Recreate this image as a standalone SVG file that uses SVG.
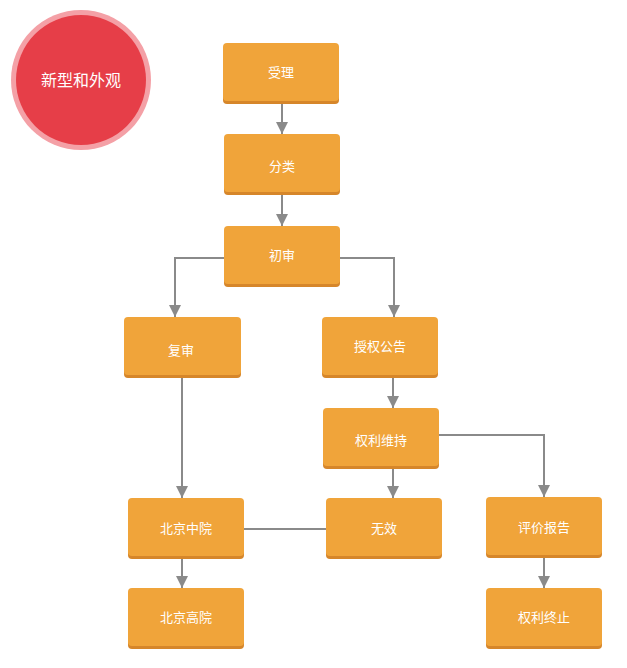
<svg xmlns="http://www.w3.org/2000/svg" width="627" height="668" viewBox="0 0 627 668">
<style>
.box{fill:#f0a43a;}
.sh{fill:#d6862a;}
.t{fill:#ffffff;font-family:"Noto Sans CJK SC","Noto Sans",sans-serif;font-size:13px;text-anchor:middle;dominant-baseline:central;}
.ln{fill:none;stroke:#8a8a8a;stroke-width:2;}
</style>
<defs>
<marker id="ar" viewBox="0 0 10 10" refX="10" refY="5" markerWidth="6" markerHeight="6" markerUnits="strokeWidth" orient="auto">
<path d="M0,0 L10,5 L0,10 Z" fill="#8a8a8a"/>
</marker>
</defs>
<rect width="627" height="668" fill="#ffffff"/>
<g id="title">
<circle cx="81" cy="80" r="70" fill="#f4a0a6"/>
<circle cx="81" cy="80" r="65" fill="#e63e48"/>
<text x="81" y="79" class="t" style="font-size:16px">新型和外观</text>
</g>
<g id="connectors">
<path class="ln" d="M282,104 V134" marker-end="url(#ar)"/>
<path class="ln" d="M282,195 V226" marker-end="url(#ar)"/>
<path class="ln" d="M224,258 H175 V317" marker-end="url(#ar)"/>
<path class="ln" d="M340,258 H394 V317" marker-end="url(#ar)"/>
<path class="ln" d="M182,378 V498" marker-end="url(#ar)"/>
<path class="ln" d="M393,378 V408" marker-end="url(#ar)"/>
<path class="ln" d="M393,469 V498" marker-end="url(#ar)"/>
<path class="ln" d="M439,435 H544 V497" marker-end="url(#ar)"/>
<path class="ln" d="M244,529 H326"/>
<path class="ln" d="M182,559 V588" marker-end="url(#ar)"/>
<path class="ln" d="M544,558 V588" marker-end="url(#ar)"/>
</g>
<g id="n1"><rect class="sh" x="223" y="46" width="116" height="58" rx="4"/><rect class="box" x="223" y="43" width="116" height="58" rx="4"/><text class="t" x="281" y="71">受理</text></g>
<g id="n2"><rect class="sh" x="224" y="137" width="116" height="58" rx="4"/><rect class="box" x="224" y="134" width="116" height="58" rx="4"/><text class="t" x="282" y="165">分类</text></g>
<g id="n3"><rect class="sh" x="224" y="229" width="116" height="58" rx="4"/><rect class="box" x="224" y="226" width="116" height="58" rx="4"/><text class="t" x="282" y="254">初审</text></g>
<g id="n4"><rect class="sh" x="124" y="320" width="117" height="58" rx="4"/><rect class="box" x="124" y="317" width="117" height="58" rx="4"/><text class="t" x="181" y="349">复审</text></g>
<g id="n5"><rect class="sh" x="322" y="320" width="116" height="58" rx="4"/><rect class="box" x="322" y="317" width="116" height="58" rx="4"/><text class="t" x="380" y="345">授权公告</text></g>
<g id="n6"><rect class="sh" x="323" y="411" width="116" height="58" rx="4"/><rect class="box" x="323" y="408" width="116" height="58" rx="4"/><text class="t" x="381" y="439">权利维持</text></g>
<g id="n7"><rect class="sh" x="128" y="501" width="116" height="58" rx="4"/><rect class="box" x="128" y="498" width="116" height="58" rx="4"/><text class="t" x="186" y="527">北京中院</text></g>
<g id="n8"><rect class="sh" x="326" y="501" width="116" height="58" rx="4"/><rect class="box" x="326" y="498" width="116" height="58" rx="4"/><text class="t" x="384" y="527">无效</text></g>
<g id="n9"><rect class="sh" x="486" y="500" width="116" height="58" rx="4"/><rect class="box" x="486" y="497" width="116" height="58" rx="4"/><text class="t" x="544" y="526">评价报告</text></g>
<g id="n10"><rect class="sh" x="128" y="591" width="116" height="58" rx="4"/><rect class="box" x="128" y="588" width="116" height="58" rx="4"/><text class="t" x="186" y="616">北京高院</text></g>
<g id="n11"><rect class="sh" x="486" y="591" width="116" height="58" rx="4"/><rect class="box" x="486" y="588" width="116" height="58" rx="4"/><text class="t" x="544" y="616">权利终止</text></g>
</svg>
